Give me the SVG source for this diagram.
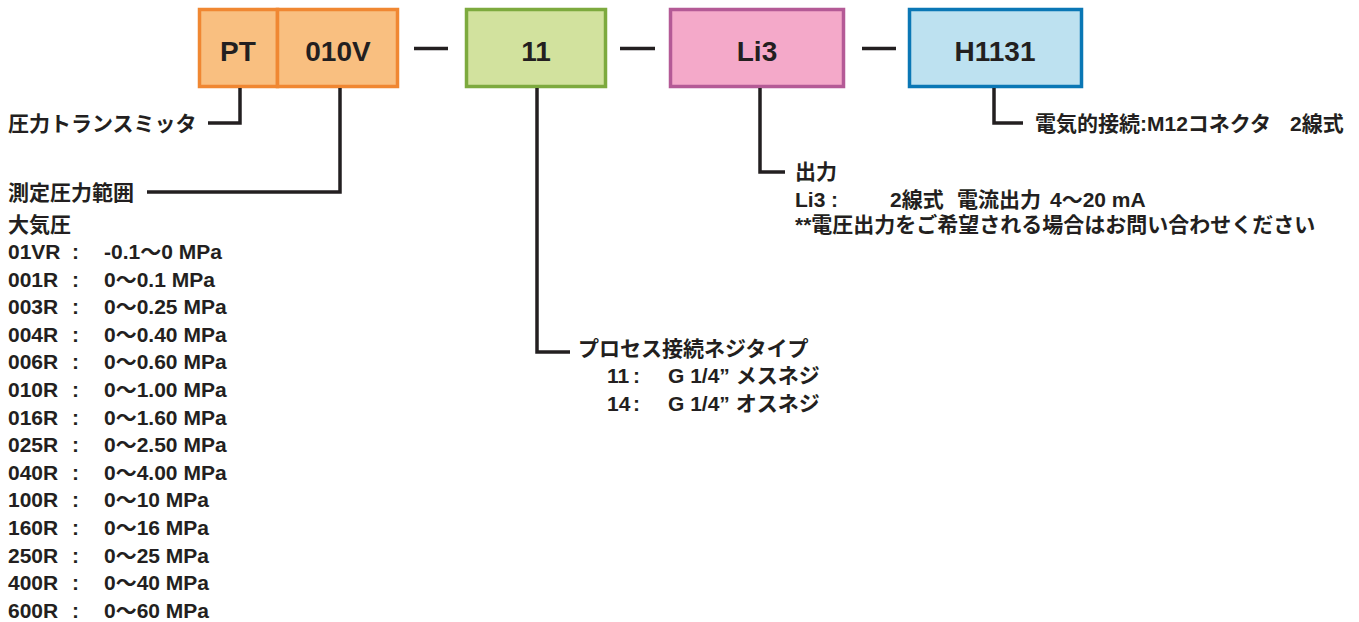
<svg xmlns="http://www.w3.org/2000/svg" width="1359" height="622" viewBox="0 0 1359 622">
<style>
text{font-family:"Liberation Sans","Noto Sans CJK JP",sans-serif;font-weight:bold;fill:#231F20;font-size:21px}
.box{stroke-width:3.5}
.bt{font-size:28px;text-anchor:middle}
.ln{fill:none;stroke:#231F20;stroke-width:3.5}
</style>
<rect width="1359" height="622" fill="#fff"/>
<g id="node-PT">
<rect class="box" x="199.5" y="9.5" width="78" height="77" fill="#F9BF80" stroke="#F08732"/>
<text class="bt" x="238" y="61">PT</text>
</g>
<g id="node-010V">
<rect class="box" x="277.5" y="9.5" width="120" height="77" fill="#F9BF80" stroke="#F08732"/>
<text class="bt" x="338" y="61">010V</text>
</g>
<g id="node-11">
<rect class="box" x="466.5" y="9.5" width="139" height="77" fill="#D2E29E" stroke="#7DAA3E"/>
<text class="bt" x="536" y="61">11</text>
</g>
<g id="node-Li3">
<rect class="box" x="670.5" y="9.5" width="173" height="77" fill="#F4A9C9" stroke="#B45A96"/>
<text class="bt" x="757" y="61">Li3</text>
</g>
<g id="node-H1131">
<rect class="box" x="909.5" y="9.5" width="172" height="77" fill="#BDE1F0" stroke="#0A77B5"/>
<text class="bt" x="995" y="61">H1131</text>
</g>
<g id="connectors">
<path class="ln" d="M414 48.5H448M620 48.5H655M862 48.5H896"/>
<path class="ln" d="M240 88V123H208"/>
<path class="ln" d="M340 88V192H147"/>
<path class="ln" d="M537 88V352H570"/>
<path class="ln" d="M760 88V172H785"/>
<path class="ln" d="M994 88V123H1023"/>
</g>
<g id="label-pt">
<text x="8" y="131">圧力トランスミッタ</text>
</g>
<g id="label-range">
<text x="8" y="200">測定圧力範囲</text>
<text x="8" y="232">大気圧</text>
<text x="8" y="259">01VR<tspan x="72">:</tspan><tspan x="104">-0.1〜0 MPa</tspan></text>
<text x="8" y="286.6">001R<tspan x="72">:</tspan><tspan x="104">0〜0.1 MPa</tspan></text>
<text x="8" y="314.2">003R<tspan x="72">:</tspan><tspan x="104">0〜0.25 MPa</tspan></text>
<text x="8" y="341.8">004R<tspan x="72">:</tspan><tspan x="104">0〜0.40 MPa</tspan></text>
<text x="8" y="369.4">006R<tspan x="72">:</tspan><tspan x="104">0〜0.60 MPa</tspan></text>
<text x="8" y="397">010R<tspan x="72">:</tspan><tspan x="104">0〜1.00 MPa</tspan></text>
<text x="8" y="424.6">016R<tspan x="72">:</tspan><tspan x="104">0〜1.60 MPa</tspan></text>
<text x="8" y="452.2">025R<tspan x="72">:</tspan><tspan x="104">0〜2.50 MPa</tspan></text>
<text x="8" y="479.8">040R<tspan x="72">:</tspan><tspan x="104">0〜4.00 MPa</tspan></text>
<text x="8" y="507.4">100R<tspan x="72">:</tspan><tspan x="104">0〜10 MPa</tspan></text>
<text x="8" y="535">160R<tspan x="72">:</tspan><tspan x="104">0〜16 MPa</tspan></text>
<text x="8" y="562.6">250R<tspan x="72">:</tspan><tspan x="104">0〜25 MPa</tspan></text>
<text x="8" y="590.2">400R<tspan x="72">:</tspan><tspan x="104">0〜40 MPa</tspan></text>
<text x="8" y="617.8">600R<tspan x="72">:</tspan><tspan x="104">0〜60 MPa</tspan></text>
</g>
<g id="label-process">
<text x="578" y="356">プロセス接続ネジタイプ</text>
<text x="607" y="383">11<tspan x="633">:</tspan><tspan x="668">G 1/4” メスネジ</tspan></text>
<text x="607" y="411">14<tspan x="633">:</tspan><tspan x="668">G 1/4” オスネジ</tspan></text>
</g>
<g id="label-output">
<text x="795" y="179">出力</text>
<text x="795" y="207">Li3<tspan x="831">:</tspan><tspan x="890">2線式</tspan><tspan x="957">電流出力</tspan><tspan x="1050">4〜20 mA</tspan></text>
<text x="795" y="232">**電圧出力をご希望される場合はお問い合わせください</text>
</g>
<g id="label-electric">
<text x="1035" y="131">電気的接続:M12コネクタ<tspan x="1290">2線式</tspan></text>
</g>
</svg>
